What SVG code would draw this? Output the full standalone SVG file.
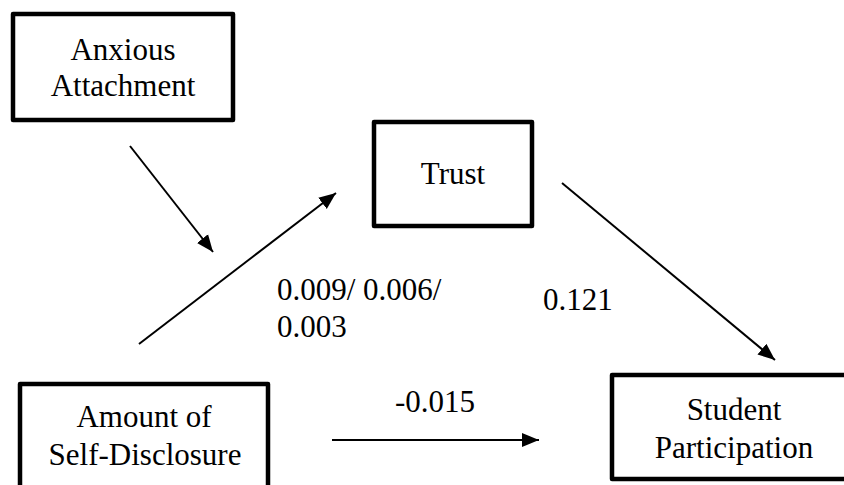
<svg xmlns="http://www.w3.org/2000/svg" width="844" height="485" viewBox="0 0 844 485">
<style>
.box{fill:#fff;stroke:#000;stroke-width:4.5;stroke-linejoin:round}
.t{font-family:'Times New Roman',Times,'Liberation Serif','DejaVu Serif',serif;font-size:31px;fill:#000}
.c{text-anchor:middle}
.e{stroke:#000;stroke-width:2;fill:none;marker-end:url(#ah)}
</style>
<defs>
<marker id="ah" markerUnits="userSpaceOnUse" markerWidth="18" markerHeight="16" refX="17" refY="7" orient="auto" viewBox="0 0 18 14">
<path d="M0,0 L17,7 L0,14 z" fill="#000"/>
</marker>
</defs>
<rect width="844" height="485" fill="#fff"/>
<g id="anxious">
<rect class="box" x="13" y="14" width="220" height="106"/>
<text class="t c" x="123" y="60">Anxious</text>
<text class="t c" x="123" y="96">Attachment</text>
</g>
<g id="trust">
<rect class="box" x="374" y="122" width="158" height="104"/>
<text class="t c" x="453" y="184">Trust</text>
</g>
<g id="amount">
<rect class="box" x="20" y="384" width="248" height="110"/>
<text class="t c" x="144" y="427">Amount of</text>
<text class="t c" x="145" y="465">Self-Disclosure</text>
</g>
<g id="student">
<rect class="box" x="612" y="375" width="250" height="104"/>
<text class="t c" x="734" y="420">Student</text>
<text class="t c" x="734" y="458">Participation</text>
</g>
<g id="connectors">
<line class="e" x1="130" y1="146" x2="213" y2="252"/>
<line class="e" x1="139" y1="344" x2="336" y2="193"/>
<line class="e" x1="562" y1="183" x2="775" y2="360"/>
<line class="e" x1="332" y1="440" x2="539" y2="440"/>
</g>
<g id="labels">
<text class="t" x="277" y="300">0.009/ 0.006/</text>
<text class="t" x="277" y="337">0.003</text>
<text class="t" x="543" y="310">0.121</text>
<text class="t c" x="435" y="412">-0.015</text>
</g>
</svg>
